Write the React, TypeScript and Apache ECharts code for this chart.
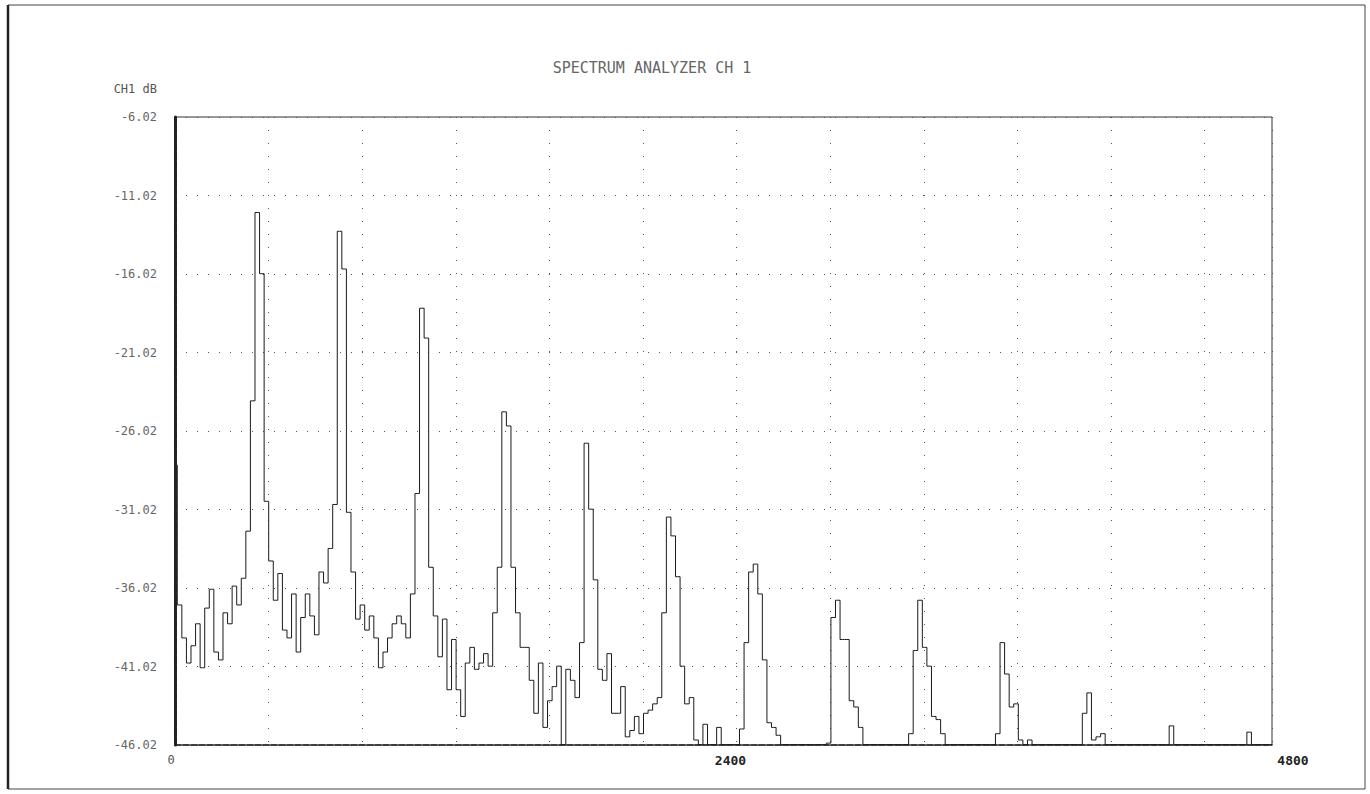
import React, { useEffect, useRef } from "react";
import * as echarts from "echarts";

// Spectrum trace: level (dB) per 20 Hz bin, 0 .. 4800 Hz
const FREQ_STEP_HZ = 20;
const levelsDb: number[] = [
  -28.2, -37.1, -39.2, -40.8, -39.7, -38.3, -41.1, -37.3, -36.1, -40.1,
  -40.6, -37.6, -38.3, -35.9, -37.1, -35.4, -32.4, -24.1, -12.1, -16.0,
  -30.5, -34.3, -36.8, -35.1, -38.7, -39.2, -36.4, -40.1, -37.9, -36.4,
  -37.8, -39.0, -35.0, -35.7, -33.5, -30.7, -13.3, -15.7, -31.2, -35.0,
  -38.0, -37.1, -38.7, -37.8, -39.2, -41.1, -40.1, -39.2, -38.3, -37.8,
  -38.3, -39.2, -36.4, -30.0, -18.2, -20.1, -34.7, -37.8, -40.4, -38.0,
  -42.5, -39.3, -42.5, -44.2, -40.8, -39.8, -41.2, -40.8, -40.2, -41.0,
  -37.6, -34.7, -24.8, -25.7, -34.7, -37.6, -39.8, -39.8, -41.9, -44.0,
  -40.8, -44.9, -43.2, -42.3, -41.0, -46.0, -41.2, -41.9, -43.0, -39.5,
  -26.8, -31.0, -35.5, -41.2, -41.9, -40.2, -44.0, -44.0, -42.3, -45.5,
  -45.1, -44.2, -45.3, -44.0, -43.8, -43.4, -43.0, -37.6, -31.5, -32.7,
  -35.3, -41.0, -43.4, -43.0, -45.7, -46.0, -44.7, -46.0, -46.0, -44.9,
  -46.0, -46.0, -46.0, -46.0, -45.0, -39.5, -35.0, -34.5, -36.4, -40.6,
  -44.6, -44.9, -45.4, -46.0, -46.0, -46.0, -46.0, -46.0, -46.0, -46.0,
  -46.0, -46.0, -46.0, -45.9, -37.9, -36.8, -39.3, -39.3, -43.2, -43.6,
  -44.9, -46.0, -46.0, -46.0, -46.0, -46.0, -46.0, -46.0, -46.0, -46.0,
  -46.0, -45.3, -40.0, -36.8, -39.8, -41.0, -44.2, -44.4, -45.3, -46.0,
  -46.0, -46.0, -46.0, -46.0, -46.0, -46.0, -46.0, -46.0, -46.0, -46.0,
  -45.3, -39.5, -41.5, -43.6, -43.4, -45.7, -46.0, -45.7, -46.0, -46.0,
  -46.0, -46.0, -46.0, -46.0, -46.0, -46.0, -46.0, -46.0, -46.0, -44.0,
  -42.7, -45.7, -45.5, -45.3, -46.0, -46.0, -46.0, -46.0, -46.0, -46.0,
  -46.0, -46.0, -46.0, -46.0, -46.0, -46.0, -46.0, -46.0, -44.8, -46.0,
  -46.0, -46.0, -46.0, -46.0, -46.0, -46.0, -46.0, -46.0, -46.0, -46.0,
  -46.0, -46.0, -46.0, -46.0, -46.0, -45.2, -46.0, -46.0, -46.0, -46.0,
  -46.0,
];

const X_MIN = 0;
const X_MAX = 4800;
const X_LABEL_STEP = 2400;
const X_GRID_STEP = 409.6;
const Y_MIN = -46.02;
const Y_MAX = -6.02;
const Y_STEP = 5;

const TITLE = "SPECTRUM ANALYZER CH 1";
const Y_NAME = "CH1 dB";

export default function App() {
  const ref = useRef<HTMLDivElement>(null);

  useEffect(() => {
    document.body.style.margin = "0";
    if (!ref.current) return;
    const chart = echarts.init(ref.current, undefined, { renderer: "svg" });
    const data = levelsDb.map((v, i) => [i * FREQ_STEP_HZ, v]);
    const mono = "DejaVu Sans Mono";

    chart.setOption({
      animation: false,
      backgroundColor: "#ffffff",
      title: {
        text: TITLE,
        left: 647,
        top: 55,
        textAlign: "center",
        textStyle: {
          fontFamily: mono,
          fontSize: 15,
          fontWeight: "normal",
          color: "#666",
        },
      },
      grid: {
        left: 175,
        right: 98,
        top: 117,
        bottom: 49,
        show: true,
        borderColor: "#333",
        borderWidth: 1,
        containLabel: false,
      },
      xAxis: [
        {
          type: "value",
          min: X_MIN,
          max: X_MAX,
          interval: X_LABEL_STEP,
          axisLine: { show: true, lineStyle: { color: "#222", width: 1.5, type: [6, 2] } },
          axisTick: { show: false },
          splitLine: { show: false },
          axisLabel: {
            margin: 9,
            formatter: (v: number) => {
              const s = String(Math.round(v));
              if (v === 0) return "{a|" + s + "}";
              if (v === X_MAX) return "{c|" + s + "}";
              return "{b|" + s + "}";
            },
            rich: {
              a: { fontFamily: mono, fontSize: 12, color: "#555", padding: [0, 8, 0, 0] },
              b: { fontFamily: mono, fontSize: 13, fontWeight: "bold", color: "#222", padding: [0, 0, 0, 14] },
              c: { fontFamily: mono, fontSize: 13, fontWeight: "bold", color: "#222", padding: [0, 0, 0, 42] },
            },
          },
        },
        {
          type: "value",
          min: X_MIN,
          max: X_MAX,
          interval: X_GRID_STEP,
          position: "bottom",
          axisLine: { show: false },
          axisTick: { show: false },
          axisLabel: { show: false },
          splitLine: { show: true, lineStyle: { color: "#555", width: 1, type: [1, 12] } },
        },
      ],
      yAxis: {
        type: "value",
        min: Y_MIN,
        max: Y_MAX,
        interval: Y_STEP,
        name: Y_NAME,
        nameLocation: "end",
        nameGap: 22,
        nameTextStyle: {
          fontFamily: mono,
          fontSize: 12,
          color: "#555",
          align: "right",
          padding: [0, 18, 0, 0],
        },
        axisLine: { show: true, lineStyle: { color: "#222", width: 3, type: [8, 1] } },
        axisTick: { show: false },
        axisLabel: {
          margin: 18,
          fontFamily: mono,
          fontSize: 12,
          color: "#666",
          formatter: (v: number) => v.toFixed(2),
        },
        splitLine: { show: true, lineStyle: { color: "#555", width: 1, type: [1, 10] } },
      },
      series: [
        {
          type: "line",
          xAxisIndex: 0,
          data,
          step: "middle",
          symbol: "none",
          lineStyle: { color: "#1a1a1a", width: 1 },
          silent: true,
        },
      ],
      graphic: [
        {
          type: "rect",
          shape: { x: 8, y: 5, width: 1357, height: 784 },
          style: { fill: "none", stroke: "#444", lineWidth: 1 },
          silent: true,
        },
        {
          type: "line",
          shape: { x1: 8, y1: 5, x2: 8, y2: 789 },
          style: { stroke: "#222", lineWidth: 2.5 },
          silent: true,
        },
      ],
    });

    return () => chart.dispose();
  }, []);

  return <div ref={ref} style={{ width: 1370, height: 794 }} />;
}
